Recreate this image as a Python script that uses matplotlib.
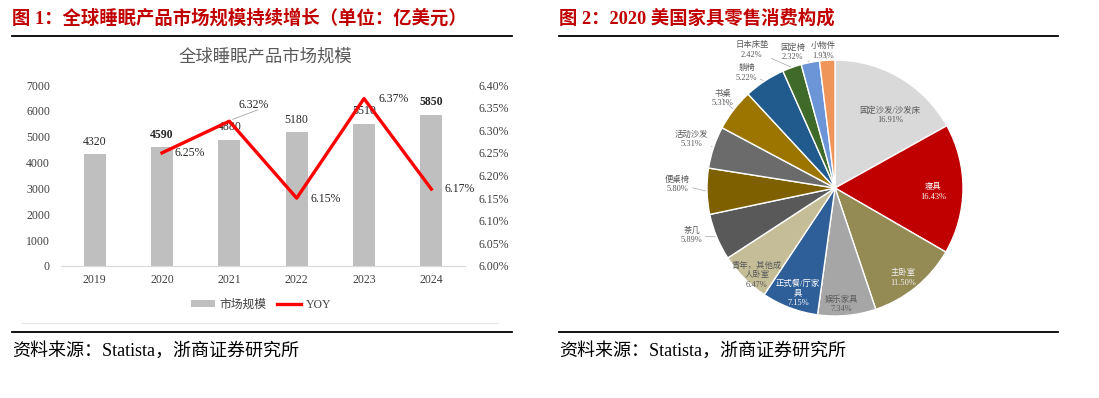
import matplotlib
matplotlib.use("Agg")
import matplotlib.pyplot as plt
import numpy as np
from matplotlib.lines import Line2D
from matplotlib.patches import Patch

FAM = ['Liberation Serif', 'Noto Sans CJK SC']
plt.rcParams['font.family'] = FAM

# ---- data: left chart ----
years = ['2019', '2020', '2021', '2022', '2023', '2024']
market_size = [4320, 4590, 4880, 5180, 5510, 5850]
yoy_years = ['2020', '2021', '2022', '2023', '2024']
yoy = [6.25, 6.32, 6.15, 6.37, 6.17]

# ---- data: right chart ----
pie_labels = ['固定沙发/沙发床', '寝具', '主卧室', '娱乐家具', '正式餐/厅家\n具',
              '青年，其他成\n人卧室', '茶几', '便桌椅', '活动沙发', '书桌', '躺椅',
              '日本床垫', '固定椅', '小物件']
pie_values = [16.91, 16.43, 11.50, 7.34, 7.15, 6.47, 5.89, 5.80, 5.31, 5.31, 5.22,
              2.42, 2.32, 1.93]

pie_colors = ['#d9d9d9', '#c00000', '#948a54', '#a6a6a6', '#2f5f98', '#c4bd97',
              '#595959', '#7f6000', '#6b6b6b', '#9c7500', '#215a8c', '#3f6a2a',
              '#6b95d6', '#f0955a']
# label placement (pie radius units) and text colour
label_pos = [(0.43, 0.57), (0.77, -0.03), (0.53, -0.70), (0.05, -0.91),
             (-0.29, -0.82), (-0.61, -0.68), (-1.12, -0.37), (-1.23, 0.03),
             (-1.12, 0.38), (-0.88, 0.70), (-0.69, 0.90), (-0.65, 1.08),
             (-0.33, 1.06), (-0.09, 1.07)]
label_col = ['#595959', 'white', '#f0f0f0', '#595959', 'white', '#595959'] + ['#595959'] * 8
outside = [False] * 6 + [True] * 8

W, H = 1099, 398
fig = plt.figure(figsize=(W / 100, H / 100), dpi=100)
fig.patch.set_facecolor('white')

def fx(px):
    return px / W

def fy(py):
    return 1 - py / H

# ---- titles, rules, sources ----
red = '#c00000'
fig.text(fx(12), fy(18), '图 1：全球睡眠产品市场规模持续增长（单位：亿美元）', color=red,
         fontsize=13.2, fontweight='bold', va='center', ha='left', family=FAM)
fig.text(fx(559), fy(18), '图 2：2020 美国家具零售消费构成', color=red,
         fontsize=13.2, fontweight='bold', va='center', ha='left', family=FAM)
for x0, x1 in [(12, 512), (559, 1058)]:
    fig.add_artist(Line2D([fx(x0), fx(x1)], [fy(36), fy(36)], color='black', lw=1.3))
    fig.add_artist(Line2D([fx(x0), fx(x1)], [fy(331.5), fy(331.5)], color='black', lw=1.3))
    fig.text(fx(x0), fy(351), '资料来源：Statista，浙商证券研究所', color='black',
             fontsize=13, va='center', ha='left', family=FAM)
# faint chart-area border bottom
fig.add_artist(Line2D([fx(22), fx(498)], [fy(323), fy(323)], color='#e6e6e6', lw=0.8))

# ---- left chart ----
ax = fig.add_axes([fx(61), fy(266), fx(465) - fx(61), fy(85) - fy(266)])
x = np.arange(len(years))
ax.bar(x, market_size, width=0.33, color='#bfbfbf', zorder=2, label='市场规模')
ax.set_xlim(-0.5, len(years) - 0.5)
ax.set_ylim(0, 7000)
ax.set_yticks(range(0, 7001, 1000))
ax.set_xticks(x)
ax.set_xticklabels(years)
for s in ['top', 'right', 'left']:
    ax.spines[s].set_visible(False)
ax.spines['bottom'].set_color('#d9d9d9')
ax.tick_params(axis='both', length=0, labelsize=8.5, colors='#404040', pad=6)
ax.tick_params(axis='y', pad=8)
for xi, v in zip(x, market_size):
    bold = v in (4590, 5850)
    ax.text(xi, v + 250, str(v), ha='center', va='bottom', fontsize=8.5,
            fontweight='bold' if bold else 'normal', color='#262626', zorder=3)

ax2 = ax.twinx()
xl = [years.index(y) for y in yoy_years]
ax2.plot(xl, yoy, color='#ff0000', lw=2.4, zorder=4, label='YOY')
ax2.set_ylim(6.0, 6.4)
ax2.set_yticks(np.arange(6.0, 6.401, 0.05))
ax2.set_yticklabels([f'{t:.2f}%' for t in np.arange(6.0, 6.401, 0.05)])
for s in ['top', 'right', 'left', 'bottom']:
    ax2.spines[s].set_visible(False)
ax2.tick_params(axis='y', length=0, labelsize=8.5, colors='#404040', pad=10)
offs = [(0.19, 0.0, 'left', 'center'), (0.36, 0.035, 'center', 'center'),
        (0.21, -0.003, 'left', 'center'), (0.21, 0.0, 'left', 'center'),
        (0.19, 0.0, 'left', 'center')]
for xi, v, (dx, dy, ha, va) in zip(xl, yoy, offs):
    ax2.text(xi + dx, v + dy, f'{v:.2f}%', ha=ha, va=va, fontsize=8.5, color='#262626', zorder=5)
# leader line for 6.32%
i21 = yoy_years.index('2021')
ax2.plot([xl[i21] + 0.05, xl[i21] + 0.42], [yoy[i21] + 0.004, yoy[i21] + 0.025],
         color='#a6a6a6', lw=0.6)

fig.text(fx(265), fy(57), '全球睡眠产品市场规模', ha='center', va='center', fontsize=12.5,
         color='#595959', family=FAM)
handles = [Patch(facecolor='#bfbfbf', edgecolor='none'),
           Line2D([0], [0], color='#ff0000', lw=2.4)]
fig.legend(handles, ['市场规模', 'YOY'], loc='center', bbox_to_anchor=(fx(261), fy(305)),
           ncol=2, frameon=False, fontsize=8.5, labelcolor='#404040', handlelength=2.0,
           handleheight=0.5, columnspacing=0.9, handletextpad=0.4)

# ---- right chart: pie ----
R = 128
cx, cy = 835, 188
pax = fig.add_axes([fx(cx - R), fy(cy + R), 2 * R / W, 2 * R / H])
wedges, _ = pax.pie(pie_values, colors=pie_colors, startangle=90, counterclock=False,
                    radius=1, wedgeprops=dict(edgecolor='white', linewidth=1.0))
pax.set_xlim(-1, 1)
pax.set_ylim(-1, 1)
pax.set_aspect('equal')
pax.axis('off')

cum = np.cumsum([0] + pie_values[:-1])
for i, (lab, val) in enumerate(zip(pie_labels, pie_values)):
    txt = f'{lab}\n{val:.2f}%'
    lx, ly = label_pos[i]
    if outside[i]:
        mid = np.deg2rad(90 - 360 * (cum[i] + val / 2) / 100)
        ex, ey = 1.0 * np.cos(mid), 1.0 * np.sin(mid)
        pax.annotate(txt, xy=(ex, ey), xytext=(lx, ly), ha='center', va='center',
                     fontsize=6, color=label_col[i], linespacing=1.25,
                     annotation_clip=False,
                     arrowprops=dict(arrowstyle='-', color='#a6a6a6', lw=0.5,
                                     shrinkA=0, shrinkB=1))
    else:
        pax.text(lx, ly, txt, ha='center', va='center', fontsize=6,
                 color=label_col[i], linespacing=1.25)

fig.savefig('out.png', dpi=100)
